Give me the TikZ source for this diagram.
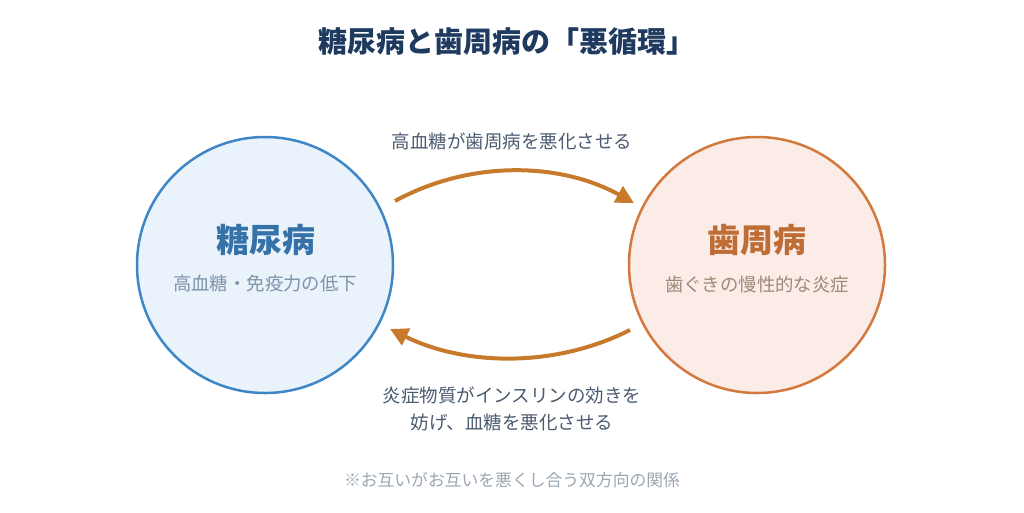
\documentclass[tikz,border=0pt]{standalone}
\usepackage{fontspec}
\setmainfont{Noto Sans CJK JP}
\usetikzlibrary{arrows.meta}
\definecolor{navy}{HTML}{1F3A5F}
\definecolor{lblue}{HTML}{3F86C6}
\definecolor{lfill}{HTML}{EAF2FB}
\definecolor{rorg}{HTML}{D4793D}
\definecolor{rfill}{HTML}{FBECE8}
\definecolor{arr}{HTML}{C87A2C}
\definecolor{txt}{HTML}{4A5A70}
\definecolor{subl}{HTML}{7F93A8}
\definecolor{subr}{HTML}{A08878}
\definecolor{foot}{HTML}{9AA6B2}
\begin{document}
\begin{tikzpicture}[x=1pt,y=-1pt,
  circ/.style={circle,minimum size=256pt,line width=2.5pt,inner sep=0pt},
  big/.style={font=\fontsize{33}{37}\selectfont\bfseries},
  sub/.style={font=\fontsize{18.4}{22}\selectfont},
  lab/.style={font=\fontsize{18.5}{27}\selectfont,text=txt,align=center},
  flow/.style={draw=arr,line width=4pt,-{Triangle[length=18pt,width=18pt]}}]
\useasboundingbox (0,0) rectangle (1024,512);
\node[font=\fontsize{29}{33}\selectfont\bfseries,text=navy] (title) at (507,42) {糖尿病と歯周病の「悪循環」};
\node[circ,draw=lblue,fill=lfill] (L) at (265,265) {};
\node[circ,draw=rorg,fill=rfill] (R) at (757,265) {};
\node[big,text=lblue!85!black] (lt) at (266,240) {糖尿病};
\node[sub,text=subl] (ls) at (265,284) {高血糖・免疫力の低下};
\node[big,text=rorg!90!black] (rt) at (757,240) {歯周病};
\node[sub,text=subr] (rs) at (757,284) {歯ぐきの慢性的な炎症};
\coordinate (a1) at (395,201);
\coordinate (a2) at (634,203);
\coordinate (b1) at (630,330);
\coordinate (b2) at (390,329);
\draw[flow] (a1) .. controls (470,160) and (560,162) .. (a2);
\draw[flow] (b1) .. controls (555,368) and (465,366) .. (b2);
\node[lab] (tl) at (512,141) {高血糖が歯周病を悪化させる};
\node[lab] (bl) at (512,409) {炎症物質がインスリンの効きを\\妨げ、血糖を悪化させる};
\node[font=\fontsize{16.8}{20}\selectfont,text=foot] (ft) at (512,480) {※お互いがお互いを悪くし合う双方向の関係};
\end{tikzpicture}
\end{document}
